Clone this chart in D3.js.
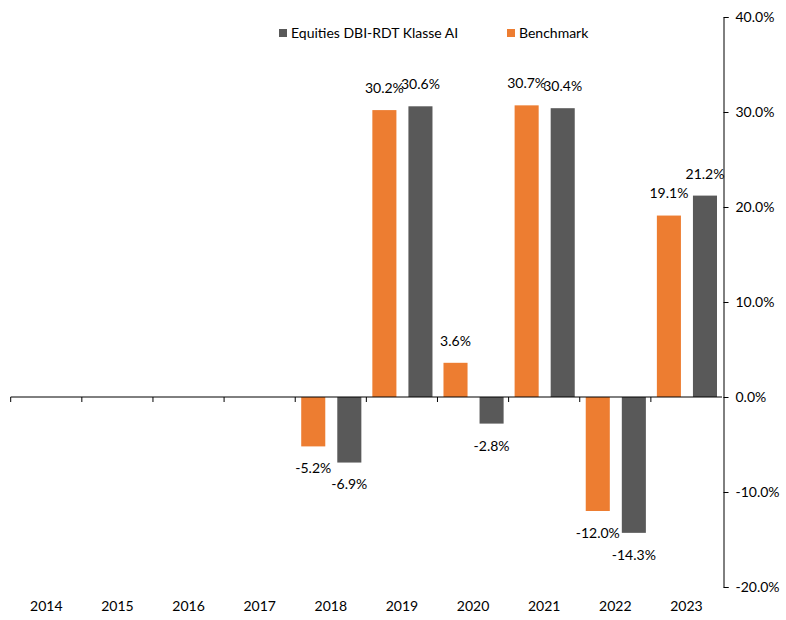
<!DOCTYPE html>
<html>
<head>
<meta charset="utf-8">
<script src="https://cdn.jsdelivr.net/npm/d3@7"></script>
<style>
  body { margin: 0; background: #fff; }
  text { font-family: Lato, "Noto Sans", sans-serif; }
</style>
</head>
<body>
<div id="chart"></div>
<script>
const years = ["2014","2015","2016","2017","2018","2019","2020","2021","2022","2023"];
const fundName = "Equities DBI-RDT Klasse AI";
const benchName = "Benchmark";
const benchValues = [null, null, null, null, -5.2, 30.2, 3.6, 30.7, -12.0, 19.1];
const fundValues  = [null, null, null, null, -6.9, 30.6, -2.8, 30.4, -14.3, 21.2];
const yTicks = [-20, -10, 0, 10, 20, 30, 40];

const width = 786, height = 620;
const orange = "#ED7D31", grey = "#595959";
const fontSize = 14;

const svg = d3.select("#chart").append("svg")
  .attr("width", width).attr("height", height);

// scales
const x0 = d3.scaleBand().domain(years).range([10.7, 722]);
const x1 = d3.scaleBand().domain(["bench", "fund"])
  .range([6, x0.bandwidth() - 5]).paddingInner(0.333);
const y = d3.scaleLinear().domain([-20, 40]).range([587, 17]);

// bars
const rows = years.map((yr, i) => ({ year: yr, bench: benchValues[i], fund: fundValues[i] }));
const groups = svg.append("g").selectAll("g").data(rows).join("g")
  .attr("transform", d => `translate(${x0(d.year)},0)`);

const series = [{ key: "bench", color: orange }, { key: "fund", color: grey }];
series.forEach(s => {
  const withVal = groups.filter(d => d[s.key] != null);
  withVal.append("rect")
    .attr("x", x1(s.key))
    .attr("width", x1.bandwidth())
    .attr("y", d => y(Math.max(0, d[s.key])))
    .attr("height", d => Math.abs(y(d[s.key]) - y(0)))
    .attr("fill", s.color);
  withVal.append("text")
    .attr("x", x1(s.key) + x1.bandwidth() / 2)
    .attr("y", d => d[s.key] >= 0 ? y(d[s.key]) - 22 : y(d[s.key]) + 22)
    .attr("dy", "0.35em")
    .attr("text-anchor", "middle")
    .attr("font-size", fontSize)
    .attr("fill", "#000")
    .text(d => d[s.key].toFixed(1) + "%");
});

// zero axis line with category boundary ticks
svg.append("line")
  .attr("x1", x0.range()[0]).attr("x2", x0.range()[1])
  .attr("y1", y(0)).attr("y2", y(0))
  .attr("stroke", "#000").attr("stroke-width", 1);
svg.append("g").selectAll("line").data(years).join("line")
  .attr("x1", d => x0(d)).attr("x2", d => x0(d))
  .attr("y1", y(0)).attr("y2", y(0) + 5)
  .attr("stroke", "#000");

// year labels at bottom
const xAxis = svg.append("g")
  .attr("transform", "translate(0,601)")
  .call(d3.axisBottom(x0).tickSize(0).tickPadding(0));
xAxis.select(".domain").remove();
xAxis.selectAll("text").attr("font-size", fontSize).attr("font-family", "Lato, 'Noto Sans', sans-serif").attr("fill", "#000");

// right y axis
const yAxis = svg.append("g")
  .attr("transform", "translate(723.5,0)")
  .call(d3.axisRight(y).tickValues(yTicks).tickSize(5).tickSizeOuter(5)
    .tickPadding(7).tickFormat(d => d.toFixed(1) + "%"));
yAxis.selectAll("text").attr("font-size", fontSize).attr("font-family", "Lato, 'Noto Sans', sans-serif").attr("fill", "#000");
yAxis.selectAll("line, path").attr("stroke", "#000");

// legend
const legendItems = [
  { name: fundName, color: grey, x: 279 },
  { name: benchName, color: orange, x: 507 }
];
const legend = svg.append("g").selectAll("g").data(legendItems).join("g")
  .attr("transform", d => `translate(${d.x},29)`);
legend.append("rect").attr("width", 8).attr("height", 8).attr("fill", d => d.color);
legend.append("text").attr("x", 12).attr("y", 4).attr("dy", "0.35em")
  .attr("font-size", fontSize).attr("fill", "#000").text(d => d.name);
</script>
</body>
</html>
